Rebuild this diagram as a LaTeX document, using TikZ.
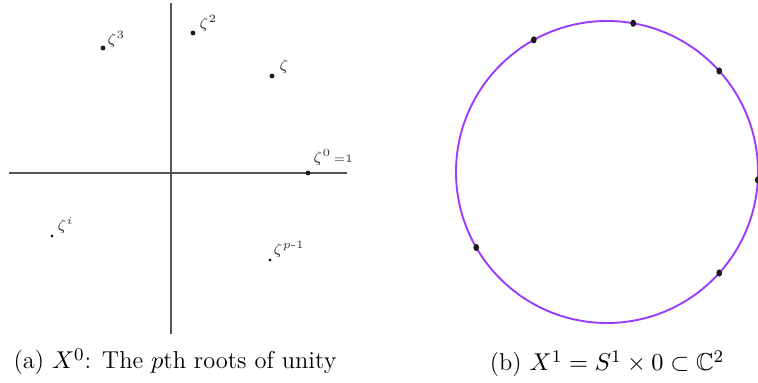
\documentclass[tikz,border=0pt]{standalone}
\usepackage{amsmath}
\usepackage{amssymb}
\usepackage{xcolor}
\usepackage{tikz}
\usetikzlibrary{positioning, calc, shapes.geometric}
\definecolor{axisgray}{HTML}{555555}
\definecolor{labelgray}{HTML}{333333}
\definecolor{circlepurple}{HTML}{9B3BFF}
\definecolor{dotblack}{HTML}{1A1A1A}
\tikzset{
  rootdot/.style={circle, fill=dotblack, inner sep=0pt, minimum size=2.2pt},
  smalldot/.style={circle, fill=dotblack, inner sep=0pt, minimum size=1.5pt},
  ringdot/.style={ellipse, fill=dotblack, inner sep=0pt, minimum width=2.6pt, minimum height=3.2pt},
  rootlabel/.style={anchor=base west, inner sep=0pt, text=labelgray, font=\scriptsize},
  caption/.style={anchor=base, inner sep=0pt, font=\fontsize{11}{13}\selectfont}
}

\begin{document}
\begin{tikzpicture}[x=0.45pt, y=-0.45pt]
    \useasboundingbox (0,0) rectangle (758,383);

    % (a) the plane with the roots
    \draw[axisgray, line width=0.6pt] (9,173) -- (347,173);
    \draw[axisgray, line width=0.6pt] (171,3) -- (171,334);

    \node[rootdot] (z3) at (103,48) {};
    \node[rootdot] (z2) at (193,33) {};
    \node[rootdot] (z1) at (272,76) {};
    \node[rootdot] (z0) at (308,173) {};
    \node[smalldot] (zi) at (52,236) {};
    \node[smalldot] (zp) at (270,260) {};

    \node[rootlabel] (lz3) at (107,45) {$\zeta^{\scriptscriptstyle 3}$};
    \node[rootlabel] (lz2) at (199,29) {$\zeta^{\scriptscriptstyle 2}$};
    \node[rootlabel] (lz1) at (279,71) {$\zeta$};
    \node[rootlabel] (lz0) at (313,163) {$\zeta^{\scriptscriptstyle 0}{\scriptscriptstyle \,=1}$};
    \node[rootlabel] (lzi) at (57,231) {$\zeta^{\scriptscriptstyle i}$};
    \node[rootlabel] (lzp) at (273,255) {$\zeta^{\scriptscriptstyle p\text{-}1}$};

    % (b) the circle
    \coordinate (c) at (607,172);
    \draw[circlepurple, line width=0.85pt] (c) circle [radius=151];
    \foreach \a/\n in {119/p1, 80/p2, 42/p3, 210/p4, -42/p5, -3/p6} {
      \node[ringdot] (\n) at ($(c)+(\a:151 and -151)$) {};
    }

    % captions
    \node[caption] (capa) at (175,369) {(a) $X^0$: The $p$th roots of unity};
    \node[caption] (capb) at (607,371) {(b) $X^1 = S^1 \times 0 \subset \mathbb{C}^2$};
\end{tikzpicture}
\end{document}
